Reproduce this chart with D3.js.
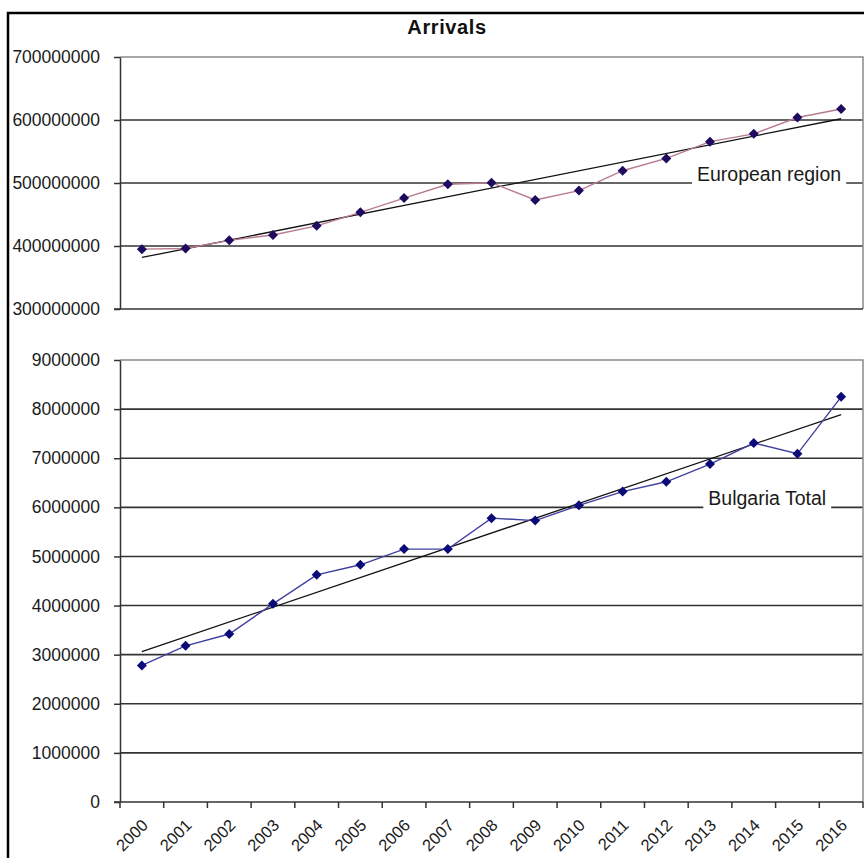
<!DOCTYPE html>
<html>
<head>
<meta charset="utf-8">
<script src="https://cdn.jsdelivr.net/npm/d3@7"></script>
<style>
  html, body { margin: 0; padding: 0; background: #fff; }
  svg { display: block; }
  text { font-family: "Liberation Sans", Arial, sans-serif; }
</style>
</head>
<body>
<svg id="chart" width="864" height="858"></svg>
<script>
// Tourist arrivals, 2000-2016
const years = ["2000","2001","2002","2003","2004","2005","2006","2007","2008",
               "2009","2010","2011","2012","2013","2014","2015","2016"];
const europeArrivals = [395e6, 396e6, 409e6, 417.5e6, 432e6, 453.5e6, 476e6, 498e6, 500.5e6,
                        473e6, 488e6, 519.5e6, 539e6, 565.6e6, 578e6, 604e6, 617.5e6];
const bulgariaArrivals = [2.78e6, 3.18e6, 3.42e6, 4.035e6, 4.625e6, 4.83e6, 5.15e6, 5.15e6, 5.78e6,
                          5.73e6, 6.04e6, 6.32e6, 6.52e6, 6.88e6, 7.31e6, 7.09e6, 8.25e6];
const europeTicks = [300e6, 400e6, 500e6, 600e6, 700e6];
const bulgariaTicks = [0, 1e6, 2e6, 3e6, 4e6, 5e6, 6e6, 7e6, 8e6, 9e6];
const titleText = "Arrivals";
const europeLabel = "European region";
const bulgariaLabel = "Bulgaria Total";

const svg = d3.select("#chart");

// outer frame (top and left edges)
svg.append("path")
  .attr("d", "M8,858 L8,13 L864,13")
  .attr("fill", "none").attr("stroke", "#000").attr("stroke-width", 2.5);

svg.append("text")
  .attr("x", 447).attr("y", 34)
  .attr("text-anchor", "middle")
  .attr("font-size", 20).attr("font-weight", "bold")
  .attr("letter-spacing", 0.6)
  .attr("fill", "#111")
  .text(titleText);

const plotLeft = 120, plotRight = 863;
const x = d3.scaleBand().domain(years).range([plotLeft, plotRight]).padding(0);
const cx = d => x(d) + x.bandwidth() / 2;

// least-squares trend over the year index
function trend(values) {
  const n = values.length;
  const mx = d3.mean(values, (_, i) => i);
  const my = d3.mean(values);
  let sxy = 0, sxx = 0;
  values.forEach((v, i) => { sxy += (i - mx) * (v - my); sxx += (i - mx) * (i - mx); });
  const b = sxy / sxx, a = my - b * mx;
  return [[0, a], [n - 1, a + b * (n - 1)]];
}

function panel(opts) {
  const { values, ticks, top, bottom, lineColor, markerColor, label, xLabels } = opts;
  const y = d3.scaleLinear().domain([ticks[0], ticks[ticks.length - 1]]).range([bottom, top]);
  const g = svg.append("g");

  // horizontal gridlines
  g.append("g").selectAll("line").data(ticks.slice(1, -1)).join("line")
    .attr("x1", plotLeft).attr("x2", plotRight)
    .attr("y1", d => y(d)).attr("y2", d => y(d))
    .attr("stroke", "#333").attr("stroke-width", 1.6);

  // plot area border (top and right, grey)
  g.append("path")
    .attr("d", `M${plotLeft},${y(ticks[ticks.length - 1])} L${plotRight},${y(ticks[ticks.length - 1])} L${plotRight},${bottom}`)
    .attr("fill", "none").attr("stroke", "#8a8a8a").attr("stroke-width", 1.5);

  // value axis
  const yAxis = d3.axisLeft(y).tickValues(ticks).tickFormat(d3.format("d"))
    .tickSizeInner(6).tickSizeOuter(0).tickPadding(14);
  const ya = g.append("g").attr("transform", `translate(${plotLeft},0)`).call(yAxis);
  ya.select(".domain").attr("stroke", "#333").attr("stroke-width", 1.5);
  ya.selectAll(".tick line").attr("stroke", "#333").attr("stroke-width", 1.5);
  ya.selectAll(".tick text").attr("font-size", 17.5).attr("fill", "#1a1a1a")
    .attr("font-family", "Liberation Sans, Arial, sans-serif");

  // category axis line
  g.append("line")
    .attr("x1", plotLeft - 6).attr("x2", plotRight)
    .attr("y1", bottom).attr("y2", bottom)
    .attr("stroke", "#333").attr("stroke-width", 1.5);

  if (xLabels) {
    const bounds = years.map(d => x(d)).concat([plotRight]);
    g.append("g").selectAll("line").data(bounds).join("line")
      .attr("x1", d => d).attr("x2", d => d)
      .attr("y1", bottom).attr("y2", bottom + 6)
      .attr("stroke", "#333").attr("stroke-width", 1.5);
    g.append("g").selectAll("text").data(years).join("text")
      .attr("transform", d => `translate(${cx(d) - 1},${bottom + 16}) rotate(-45)`)
      .attr("text-anchor", "end")
      .attr("dy", "0.7em")
      .attr("font-size", 16.5).attr("fill", "#1a1a1a")
      .text(d => d);
  }

  // series label sitting on a gridline, with a white backing
  const labG = g.append("g");
  const lab = labG.append("text")
    .attr("x", label.x).attr("y", y(label.at) - 2)
    .attr("text-anchor", "end")
    .attr("font-size", 19.5).attr("fill", "#1a1a1a")
    .text(label.text);
  const bb = lab.node().getBBox();
  labG.insert("rect", () => lab.node())
    .attr("x", bb.x - 5).attr("y", bb.y).attr("width", bb.width + 10).attr("height", bb.height + 2)
    .attr("fill", "#fff");

  // trend line
  const t = trend(values);
  g.append("line")
    .attr("x1", cx(years[t[0][0]])).attr("y1", y(t[0][1]))
    .attr("x2", cx(years[t[1][0]])).attr("y2", y(t[1][1]))
    .attr("stroke", "#111").attr("stroke-width", 1.3);

  // data series
  const line = d3.line().x((d, i) => cx(years[i])).y(d => y(d));
  g.append("path").datum(values)
    .attr("d", line).attr("fill", "none")
    .attr("stroke", lineColor).attr("stroke-width", 1.4);

  const diamond = d3.symbol().type(d3.symbolSquare).size(50)();
  g.append("g").selectAll("path").data(values).join("path")
    .attr("d", diamond)
    .attr("transform", (d, i) => `translate(${cx(years[i])},${y(d)}) rotate(45)`)
    .attr("fill", markerColor);
}

panel({
  values: europeArrivals, ticks: europeTicks, top: 57, bottom: 309,
  lineColor: "#b87a90", markerColor: "#1e0a5e",
  label: { text: europeLabel, at: 500e6, x: cx("2016") },
  xLabels: false
});

panel({
  values: bulgariaArrivals, ticks: bulgariaTicks, top: 360, bottom: 802,
  lineColor: "#4040a0", markerColor: "#0a0a78",
  label: { text: bulgariaLabel, at: 6e6, x: cx("2016") - 15 },
  xLabels: true
});
</script>
</body>
</html>
